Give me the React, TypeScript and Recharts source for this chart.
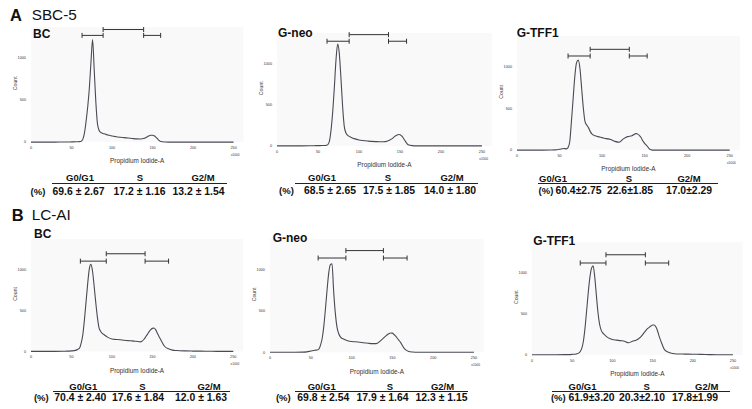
import React from 'react';
import { LineChart, Line, XAxis, YAxis, ReferenceLine, CartesianGrid } from 'recharts';

// ---------- data ----------
const xValues = [0, 10, 20, 30, 40, 45, 50, 55, 58, 60, 62, 64, 66, 68, 70, 72, 74, 76, 78, 80, 82, 84, 86, 88, 90, 95, 100, 105, 110, 115, 120, 125, 130, 135, 140, 142, 144, 146, 148, 150, 152, 154, 156, 158, 160, 165, 170, 175, 180, 190, 200, 210, 220, 230, 240, 250];

const sbc5BC = [0, 0, 0, 0, 1, 1, 2, 3, 4, 5, 10, 35, 110, 250, 420, 640, 950, 1220, 860, 480, 220, 140, 115, 105, 98, 85, 72, 64, 58, 53, 48, 43, 38, 37, 45, 55, 66, 76, 82, 82, 75, 60, 40, 20, 6, 1, 0, 0, 0, 0, 0, 0, 0, 0, 0, 0];
const sbc5Neo = [0, 0, 0, 0, 1, 2, 3, 4, 5, 6, 15, 60, 200, 420, 720, 1050, 1235, 1120, 820, 480, 240, 160, 130, 115, 105, 85, 72, 65, 60, 55, 52, 50, 50, 60, 85, 100, 118, 130, 138, 136, 120, 95, 65, 35, 15, 3, 0, 0, 0, 0, 0, 0, 0, 0, 0, 0];
const sbc5TFF1 = [0, 0, 0, 0, 1, 3, 10, 20, 15, 30, 100, 350, 620, 890, 1050, 1080, 980, 740, 500, 340, 300, 270, 225, 195, 180, 162, 150, 138, 128, 105, 95, 135, 162, 172, 198, 192, 175, 148, 110, 82, 60, 35, 10, 3, 0, 0, 0, 0, 0, 0, 0, 0, 0, 0, 0, 0];
const lcaiBC = [0, 0, 0, 0, 1, 2, 5, 12, 25, 40, 100, 200, 380, 600, 820, 1000, 1060, 980, 800, 600, 420, 290, 245, 220, 205, 170, 150, 145, 142, 135, 130, 128, 122, 115, 150, 180, 210, 240, 265, 280, 284, 265, 225, 185, 148, 62, 30, 15, 10, 5, 3, 2, 1, 0, 0, 0];
const lcaiNeo = [0, 0, 0, 0, 2, 5, 15, 25, 28, 40, 90, 170, 320, 530, 760, 960, 1060, 1070, 740, 480, 310, 230, 190, 170, 160, 140, 130, 127, 122, 115, 110, 105, 105, 135, 180, 198, 215, 228, 234, 232, 215, 195, 170, 145, 120, 40, 10, 3, 0, 0, 0, 0, 0, 0, 0, 0];
const lcaiTFF1 = [0, 0, 0, 0, 1, 2, 5, 10, 20, 40, 80, 170, 330, 540, 760, 940, 1050, 1080, 950, 730, 520, 375, 300, 265, 245, 205, 185, 178, 172, 165, 145, 165, 180, 215, 275, 300, 320, 335, 350, 362, 362, 340, 295, 230, 175, 60, 30, 15, 10, 8, 6, 5, 2, 0, 0, 0];

// gate boundaries (x, x1000 units) and bar levels (count)
const sbc5BCGates = [63, 89, 139, 160];
const sbc5NeoGates = [61, 88, 136, 158];
const sbc5TFF1Gates = [60, 86, 132, 153];
const lcaiBCGates = [61, 93, 141, 170];
const lcaiNeoGates = [59, 93, 139, 168];
const lcaiTFF1Gates = [60, 92, 141, 170];
const sbc5BCLevels = [1270, 1340];
const sbc5NeoLevels = [1270, 1350];
const sbc5TFF1Levels = [1130, 1210];
const lcaiBCLevels = [1100, 1190];
const lcaiNeoLevels = [1140, 1230];
const lcaiTFF1Levels = [1115, 1215];

const phases = ['G0/G1', 'S', 'G2/M'];
const sbc5BCMean = [69.6, 17.2, 13.2];
const sbc5BCSd = [2.67, 1.16, 1.54];
const sbc5NeoMean = [68.5, 17.5, 14.0];
const sbc5NeoSd = [2.65, 1.85, 1.80];
const sbc5TFF1Mean = [60.4, 22.6, 17.0];
const sbc5TFF1Sd = [2.75, 1.85, 2.29];
const lcaiBCMean = [70.4, 17.6, 12.0];
const lcaiBCSd = [2.40, 1.84, 1.63];
const lcaiNeoMean = [69.8, 17.9, 12.3];
const lcaiNeoSd = [2.54, 1.64, 1.15];
const lcaiTFF1Mean = [61.9, 20.3, 17.8];
const lcaiTFF1Sd = [3.20, 2.10, 1.99];

const xTicks = [0, 50, 100, 150, 200, 250];
const yTicks = [0, 500, 1000];
const groupLetters = ['A', 'B'];
const groupNames = ['SBC-5', 'LC-AI'];
const panelNames = ['BC', 'G-neo', 'G-TFF1'];

// ---------- layout ----------
const FONT = '"Liberation Sans", Arial, Helvetica, sans-serif';
const XMAX = 262;
const YMAX = 1370;
const ML = 24, MR = 4, MT = 2, MB = 24;

type Layout = { x0: number; x250: number; y0: number; y1000: number };
type TableLayout = { lineX1: number; lineX2: number; lineY: number; headerY: number; valueY: number; pctX: number; headerXs: number[]; valueXs: number[]; compact: boolean };

const XTick = (props: any) => {
  const { x, y, payload } = props;
  const last = payload.value === xTicks[xTicks.length - 1];
  return (
    <g>
      <text x={x} y={y} dy={3} textAnchor="middle" fontSize={3.8} fill="#333" fontFamily={FONT}>{payload.value}</text>
      {last && (
        <text x={x + 6} y={y} dy={10.2} textAnchor="end" fontSize={3.2} fill="#333" fontFamily={FONT}>x1000</text>
      )}
    </g>
  );
};

function Histogram({ counts, gates, levels, layout }: { counts: number[]; gates: number[]; levels: number[]; layout: Layout }) {
  const sx = (layout.x250 - layout.x0) / 250;
  const sy = (layout.y0 - layout.y1000) / 1000;
  const plotW = sx * XMAX;
  const plotH = sy * YMAX;
  const width = plotW + ML + MR;
  const height = plotH + MT + MB;
  const left = layout.x0 - ML;
  const top = layout.y0 - plotH - MT;
  const data = xValues.map((x, i) => ({ x, count: counts[i] }));
  const cap = 2.5 / sy;
  const [a, b, c, d] = gates;
  const [lo, hi] = levels;
  const bars = [
    { x1: a, x2: b, y: lo },
    { x1: b, x2: c, y: hi },
    { x1: c, x2: d, y: lo },
  ];
  const segs: { p: { x: number; y: number }[] }[] = [];
  bars.forEach((g) => {
    segs.push({ p: [{ x: g.x1, y: g.y }, { x: g.x2, y: g.y }] });
    segs.push({ p: [{ x: g.x1, y: g.y - cap }, { x: g.x1, y: g.y + cap }] });
    segs.push({ p: [{ x: g.x2, y: g.y - cap }, { x: g.x2, y: g.y + cap }] });
  });
  return (
    <div style={{ position: 'absolute', left, top, width, height }}>
      <LineChart width={width} height={height} data={data} margin={{ top: MT, right: MR, bottom: 0, left: 0 }}>
        <CartesianGrid horizontal={false} vertical={false} fill="#f9f9f9" stroke="none" />
        <XAxis
          type="number"
          dataKey="x"
          domain={[0, XMAX]}
          ticks={xTicks}
          interval={0}
          height={MB}
          tickLine={false}
          axisLine={false}
          tickSize={2}
          tickMargin={1.9}
          tick={<XTick />}
          label={{ value: 'Propidium Iodide-A', position: 'insideBottom', offset: 2.7, fontSize: 6.4, fill: '#333', fontFamily: FONT }}
        />
        <YAxis
          type="number"
          domain={[0, YMAX]}
          ticks={yTicks}
          width={ML}
          tickLine={false}
          axisLine={false}
          tickSize={2}
          tickMargin={3}
          tick={{ fontSize: 3.8, fill: '#333', fontFamily: FONT }}
          label={{
            content: (p: any) => {
              const vb = p.viewBox || { x: 0, y: MT, width: ML, height: plotH };
              const cx = vb.x + vb.width - 16;
              const cy = vb.y + vb.height - 700 * sy;
              return (
                <text x={cx} y={cy} transform={`rotate(-90 ${cx} ${cy})`} textAnchor="middle" dominantBaseline="central" fontSize={5.2} fill="#333" fontFamily={FONT}>Count</text>
              );
            },
          }}
        />
        {segs.map((s, i) => (
          <ReferenceLine key={i} segment={s.p} stroke="#333" strokeWidth={1} ifOverflow="visible" />
        ))}
        <Line type="monotone" dataKey="count" stroke="#4a4a55" strokeWidth={1.1} dot={false} isAnimationActive={false} />
      </LineChart>
    </div>
  );
}

const Txt = ({ x, y, children, size, bold, anchor = 'center' }: any) => (
  <div
    style={{
      position: 'absolute',
      left: x,
      top: y,
      transform: anchor === 'center' ? 'translate(-50%, -50%)' : 'translate(0, -50%)',
      fontSize: size,
      fontWeight: bold ? 700 : 400,
      lineHeight: 1,
      whiteSpace: 'nowrap',
      color: '#111',
      fontFamily: FONT,
    }}
  >
    {children}
  </div>
);

function Table({ mean, sd, t }: { mean: number[]; sd: number[]; t: TableLayout }) {
  const valueSize = 10.4;
  const sep = t.compact ? '±' : ' ± ';
  return (
    <>
      {phases.map((p, i) => (
        <Txt key={'h' + i} x={t.headerXs[i]} y={t.headerY} size={9.5} bold>{p}</Txt>
      ))}
      <div style={{ position: 'absolute', left: t.lineX1, top: t.lineY - 0.5, width: t.lineX2 - t.lineX1, height: 1.2, background: '#222' }} />
      <Txt x={t.pctX} y={t.valueY} size={9.5} bold>(%)</Txt>
      {mean.map((m, i) => (
        <Txt key={'v' + i} x={t.valueXs[i]} y={t.valueY} size={valueSize} bold>{`${m.toFixed(1)}${sep}${sd[i].toFixed(2)}`}</Txt>
      ))}
    </>
  );
}

const panels = [
  { name: panelNames[0], counts: sbc5BC, gates: sbc5BCGates, levels: sbc5BCLevels, mean: sbc5BCMean, sd: sbc5BCSd,
    layout: { x0: 30.7, x250: 233.3, y0: 141.7, y1000: 57.7 }, title: { x: 33, y: 33.5 },
    table: { lineX1: 52, lineX2: 227, lineY: 183, headerY: 178, valueY: 191.5, pctX: 38, headerXs: [80, 140, 203], valueXs: [78.5, 139.5, 198.5], compact: false } },
  { name: panelNames[1], counts: sbc5Neo, gates: sbc5NeoGates, levels: sbc5NeoLevels, mean: sbc5NeoMean, sd: sbc5NeoSd,
    layout: { x0: 277.3, x250: 482.3, y0: 145.7, y1000: 63.3 }, title: { x: 278, y: 33 },
    table: { lineX1: 295, lineX2: 478, lineY: 183, headerY: 178.3, valueY: 191, pctX: 286.5, headerXs: [322, 388, 452], valueXs: [330, 389, 450], compact: false } },
  { name: panelNames[2], counts: sbc5TFF1, gates: sbc5TFF1Gates, levels: sbc5TFF1Levels, mean: sbc5TFF1Mean, sd: sbc5TFF1Sd,
    layout: { x0: 517.3, x250: 730, y0: 150, y1000: 66.7 }, title: { x: 516.7, y: 33 },
    table: { lineX1: 538, lineX2: 718, lineY: 183.3, headerY: 178.6, valueY: 191, pctX: 546, headerXs: [553, 629, 689], valueXs: [578.5, 630, 689], compact: true } },
  { name: panelNames[0], counts: lcaiBC, gates: lcaiBCGates, levels: lcaiBCLevels, mean: lcaiBCMean, sd: lcaiBCSd,
    layout: { x0: 31, x250: 233.3, y0: 351, y1000: 269 }, title: { x: 34, y: 234 },
    table: { lineX1: 53, lineX2: 230, lineY: 391.5, headerY: 386.5, valueY: 397.8, pctX: 41.3, headerXs: [83.3, 142.5, 209], valueXs: [80.3, 138, 201], compact: false } },
  { name: panelNames[1], counts: lcaiNeo, gates: lcaiNeoGates, levels: lcaiNeoLevels, mean: lcaiNeoMean, sd: lcaiNeoSd,
    layout: { x0: 270, x250: 474, y0: 352.7, y1000: 270 }, title: { x: 272.7, y: 237.8 },
    table: { lineX1: 295, lineX2: 468, lineY: 391.5, headerY: 386.5, valueY: 397.8, pctX: 283.3, headerXs: [321.7, 390, 442.5], valueXs: [323.3, 382.5, 441.5], compact: false } },
  { name: panelNames[2], counts: lcaiTFF1, gates: lcaiTFF1Gates, levels: lcaiTFF1Levels, mean: lcaiTFF1Mean, sd: lcaiTFF1Sd,
    layout: { x0: 532.3, x250: 733.3, y0: 355, y1000: 272.7 }, title: { x: 533.3, y: 241.2 },
    table: { lineX1: 551.7, lineX2: 730, lineY: 391.8, headerY: 386.6, valueY: 398, pctX: 558.3, headerXs: [582.5, 646.7, 706.7], valueXs: [591.5, 642, 695], compact: true } },
];

const groups = [
  { letter: groupLetters[0], name: groupNames[0], x: 10, nameX: 31.7, y: 15.2 },
  { letter: groupLetters[1], name: groupNames[1], x: 11.7, nameX: 31.7, y: 215 },
];

export default function App() {
  return (
    <div style={{ position: 'absolute', left: 0, top: 0, width: 752, height: 409, background: '#fff', overflow: 'hidden', fontFamily: FONT }}>
      {groups.map((g, i) => (
        <React.Fragment key={'g' + i}>
          <Txt x={g.x} y={g.y} size={16.5} bold anchor="left">{g.letter}</Txt>
          <Txt x={g.nameX} y={g.y} size={15.3} anchor="left">{g.name}</Txt>
        </React.Fragment>
      ))}
      {panels.map((p, i) => (
        <React.Fragment key={'p' + i}>
          <Histogram counts={p.counts} gates={p.gates} levels={p.levels} layout={p.layout} />
          <Txt x={p.title.x} y={p.title.y} size={12} bold anchor="left">{p.name}</Txt>
          <Table mean={p.mean} sd={p.sd} t={p.table} />
        </React.Fragment>
      ))}
    </div>
  );
}
